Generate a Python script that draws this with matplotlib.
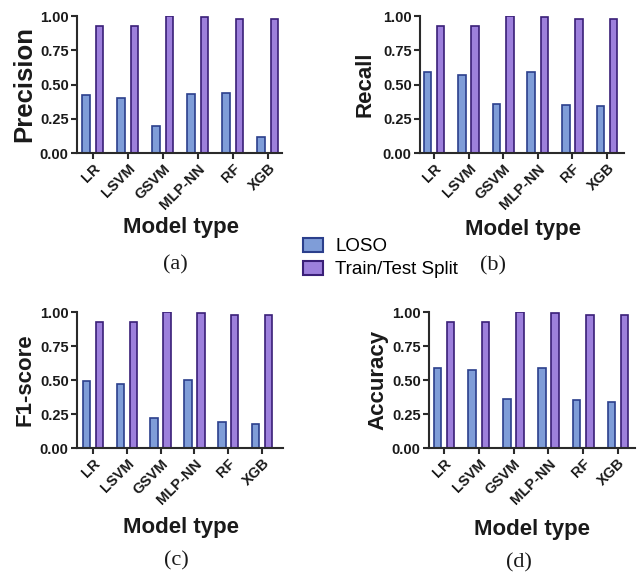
import matplotlib
matplotlib.use("Agg")
import matplotlib.pyplot as plt
import numpy as np
from matplotlib.patches import Patch

models = ["LR", "LSVM", "GSVM", "MLP-NN", "RF", "XGB"]
series = ["LOSO", "Train/Test Split"]

precision_loso = [0.42, 0.40, 0.20, 0.43, 0.44, 0.12]
precision_tts = [0.93, 0.93, 1.00, 0.99, 0.98, 0.98]
recall_loso = [0.59, 0.57, 0.36, 0.59, 0.35, 0.34]
recall_tts = [0.93, 0.93, 1.00, 0.99, 0.98, 0.98]
f1_loso = [0.49, 0.47, 0.22, 0.50, 0.19, 0.18]
f1_tts = [0.93, 0.93, 1.00, 0.99, 0.98, 0.98]
acc_loso = [0.59, 0.57, 0.36, 0.59, 0.35, 0.34]
acc_tts = [0.93, 0.93, 1.00, 0.99, 0.98, 0.98]

metric_names = ["Precision", "Recall", "F1-score", "Accuracy"]
panel_letters = ["(a)", "(b)", "(c)", "(d)"]

W, H = 639, 575
fig = plt.figure(figsize=(W / 100, H / 100), dpi=100)

SANS = "Liberation Sans"
SERIF = "Liberation Serif"

loso_face, loso_edge = "#7f9dd8", "#2b3f8c"
tts_face, tts_edge = "#9d80dc", "#3a1f78"
spine_col = "#2a2a2a"
txt_col = "#1a1a1a"

def px_axes(l, r, t, b):
    return fig.add_axes([l / W, 1 - b / H, (r - l) / W, (b - t) / H])

# pixel boxes: left, right, top, bottom
boxes = [(77, 282, 16, 153), (420, 624, 16, 153), (77, 283, 312, 448), (429, 635, 312, 448)]
xlims = [(-0.457, 5.40), (-0.405, 5.49), (-0.473, 5.62), (-0.43, 5.49)]
ylabel_x = [36, 375, 36, 388]
ylabel_size = [18.5, 16, 16, 16]
xlabel_pos = [(181, 228), (523, 230), (181, 527), (532, 529)]
letter_pos = [(175, 265), (493, 266), (176, 561), (519, 563)]
data = [(precision_loso, precision_tts), (recall_loso, recall_tts),
        (f1_loso, f1_tts), (acc_loso, acc_tts)]

bw = 0.22
off = 0.19
x = np.arange(len(models))

for i, (box, (lo, tt)) in enumerate(zip(boxes, data)):
    l, r, t, b = box
    ax = px_axes(l, r, t, b)
    ax.bar(x - off, lo, width=bw, color=loso_face, edgecolor=loso_edge, linewidth=1.2)
    ax.bar(x + off, tt, width=bw, color=tts_face, edgecolor=tts_edge, linewidth=1.2)
    ax.set_xlim(*xlims[i])
    ax.set_ylim(0, 1.0)
    ax.set_yticks([0, 0.25, 0.5, 0.75, 1.0])
    ax.set_yticklabels(["0.00", "0.25", "0.50", "0.75", "1.00"])
    ax.set_xticks(x)
    ax.set_xticklabels(models, rotation=45, ha="right", rotation_mode="anchor")
    for s in ["top", "right"]:
        ax.spines[s].set_visible(False)
    for s in ["left", "bottom"]:
        ax.spines[s].set_linewidth(1.5)
        ax.spines[s].set_color(spine_col)
    ax.tick_params(axis="both", direction="out", width=1.5, length=4, color=spine_col, pad=2)
    for lab in ax.get_xticklabels() + ax.get_yticklabels():
        lab.set_fontfamily(SANS)
        lab.set_fontweight("bold")
        lab.set_fontsize(10.5)
        lab.set_color(txt_col)
    ax.set_ylabel(metric_names[i], fontfamily=SANS, fontweight="bold",
                  fontsize=ylabel_size[i], color=txt_col)
    ax.yaxis.set_label_coords((ylabel_x[i] - l) / (r - l), 0.5)
    xl, yl = xlabel_pos[i]
    fig.text(xl / W, 1 - yl / H, "Model type", ha="center", va="center",
             fontfamily=SANS, fontweight="bold", fontsize=16, color=txt_col)
    lx, ly = letter_pos[i]
    fig.text(lx / W, 1 - ly / H, panel_letters[i], ha="center", va="center",
             fontfamily=SERIF, fontsize=16, color=txt_col)

handles = [Patch(facecolor=loso_face, edgecolor=loso_edge, linewidth=1.5),
           Patch(facecolor=tts_face, edgecolor=tts_edge, linewidth=1.5)]
fig.legend(handles, series, loc="upper left", bbox_to_anchor=(303 / W, 1 - 238 / H),
           frameon=False, prop={"family": SANS, "size": 13.5},
           handlelength=1.07, handleheight=0.75, handletextpad=0.65, labelspacing=0.3,
           borderaxespad=0, borderpad=0)

fig.savefig("out.png", dpi=100)
